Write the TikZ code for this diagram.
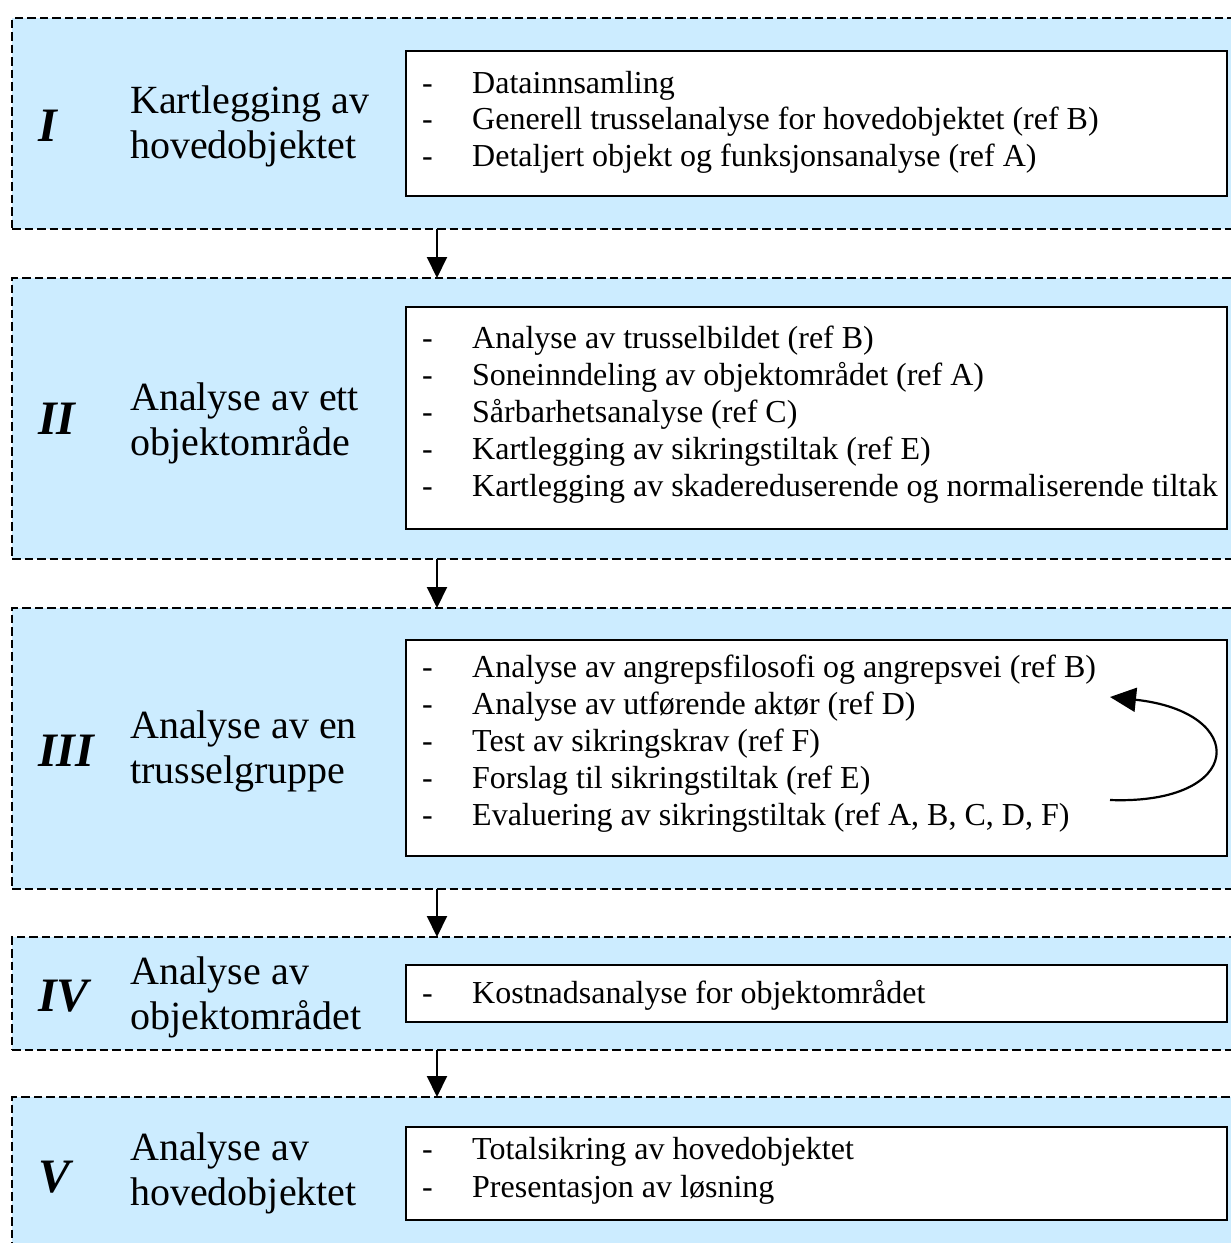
\documentclass[tikz,border=0pt]{standalone}
\usepackage{fontspec}
\setmainfont{Liberation Serif}
\usetikzlibrary{arrows.meta}
\definecolor{panelblue}{RGB}{204,236,255}
\begin{document}
\begin{tikzpicture}[x=1pt,y=-1pt,
 panel/.style={draw=black, fill=panelblue, line width=2.1pt, dash pattern=on 8.5pt off 4pt, anchor=north west, minimum width=1300pt, inner sep=0pt, outer sep=0pt},
 listbox/.style={draw=black, fill=white, line width=2.2pt, anchor=north west, minimum width=821pt, inner sep=0pt, outer sep=0pt},
 num/.style={font=\fontsize{48}{50}\selectfont\bfseries\itshape, anchor=base west, inner sep=0pt},
 lab/.style={font=\fontsize{40}{45}\selectfont, anchor=base west, inner sep=0pt},
 item/.style={font=\fontsize{32}{37}\selectfont, anchor=base west, inner sep=0pt},
 flow/.style={-{Triangle[length=21pt,width=20pt]}, line width=2pt},
 loopback/.style={-{Triangle[length=26pt,width=24pt]}, line width=2.2pt},
]
\clip (0,0) rectangle (1231,1243);
\fill[white] (0,0) rectangle (1231,1243);

% panels
\node[panel, minimum height=211pt] (p1) at (12,18) {};
\node[panel, minimum height=281pt] (p2) at (12,278) {};
\node[panel, minimum height=281pt] (p3) at (12,608) {};
\node[panel, minimum height=113pt] (p4) at (12,937) {};
\node[panel, minimum height=230pt] (p5) at (12,1097) {};

% list boxes
\node[listbox, minimum height=145pt] (b1) at (406,51) {};
\node[listbox, minimum height=222pt] (b2) at (406,307) {};
\node[listbox, minimum height=216pt] (b3) at (406,640) {};
\node[listbox, minimum height=57pt] (b4) at (406,965) {};
\node[listbox, minimum height=93pt] (b5) at (406,1127) {};

% flow arrows
\coordinate (ax) at (437,0);
\draw[flow] (ax |- p1.south) -- (ax |- p2.north);
\draw[flow] (ax |- p2.south) -- (ax |- p3.north);
\draw[flow] (ax |- p3.south) -- (ax |- p4.north);
\draw[flow] (ax |- p4.south) -- (ax |- p5.north);

% numerals
\node[num] (n1) at (38,141) {I};
\node[num] (n2) at (38,434) {II};
\node[num] (n3) at (38,766) {III};
\node[num] (n4) at (38,1011) {IV};
\node[num] (n5) at (38,1192) {V};

% labels
\node[lab] (l1a) at (130,113) {Kartlegging av};
\node[lab] (l1b) at (130,158) {hovedobjektet};
\node[lab] (l2a) at (130,410) {Analyse av ett};
\node[lab] (l2b) at (130,455) {objektområde};
\node[lab] (l3a) at (130,738) {Analyse av en};
\node[lab] (l3b) at (130,783) {trusselgruppe};
\node[lab] (l4a) at (130,984) {Analyse av};
\node[lab] (l4b) at (130,1029) {objektområdet};
\node[lab] (l5a) at (130,1160) {Analyse av};
\node[lab] (l5b) at (130,1205) {hovedobjektet};

% list items I
\node[item] (d1a) at (422,93) {-};
\node[item] (t1a) at (472,93) {Datainnsamling};
\node[item] (d1b) at (422,129.5) {-};
\node[item] (t1b) at (472,129.5) {Generell trusselanalyse for hovedobjektet (ref B)};
\node[item] (d1c) at (422,166) {-};
\node[item] (t1c) at (472,166) {Detaljert objekt og funksjonsanalyse (ref A)};

% list items II
\node[item] (d2a) at (422,348) {-};
\node[item] (t2a) at (472,348) {Analyse av trusselbildet (ref B)};
\node[item] (d2b) at (422,385) {-};
\node[item] (t2b) at (472,385) {Soneinndeling av objektområdet (ref A)};
\node[item] (d2c) at (422,422) {-};
\node[item] (t2c) at (472,422) {Sårbarhetsanalyse (ref C)};
\node[item] (d2d) at (422,459) {-};
\node[item] (t2d) at (472,459) {Kartlegging av sikringstiltak (ref E)};
\node[item] (d2e) at (422,496) {-};
\node[item] (t2e) at (472,496) {Kartlegging av skadereduserende og normaliserende tiltak};

% list items III
\node[item] (d3a) at (422,677) {-};
\node[item] (t3a) at (472,677) {Analyse av angrepsfilosofi og angrepsvei (ref B)};
\node[item] (d3b) at (422,714) {-};
\node[item] (t3b) at (472,714) {Analyse av utførende aktør (ref D)};
\node[item] (d3c) at (422,751) {-};
\node[item] (t3c) at (472,751) {Test av sikringskrav (ref F)};
\node[item] (d3d) at (422,788) {-};
\node[item] (t3d) at (472,788) {Forslag til sikringstiltak (ref E)};
\node[item] (d3e) at (422,825) {-};
\node[item] (t3e) at (472,825) {Evaluering av sikringstiltak (ref A, B, C, D, F)};

% loop-back arrow
\coordinate (cs) at (1110,800);
\coordinate (ce) at (1110,697);
\draw[loopback] (cs) .. controls (1245,805) and (1250,712) .. (ce);

% list items IV
\node[item] (d4a) at (422,1003) {-};
\node[item] (t4a) at (472,1003) {Kostnadsanalyse for objektområdet};

% list items V
\node[item] (d5a) at (422,1159) {-};
\node[item] (t5a) at (472,1159) {Totalsikring av hovedobjektet};
\node[item] (d5b) at (422,1197) {-};
\node[item] (t5b) at (472,1197) {Presentasjon av løsning};
\end{tikzpicture}
\end{document}
